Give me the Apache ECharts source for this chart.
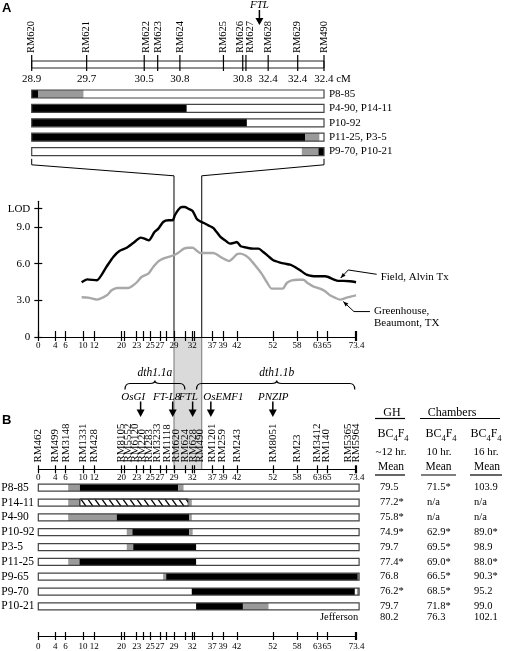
<!DOCTYPE html>
<html><head><meta charset="utf-8">
<script src="https://cdn.jsdelivr.net/npm/echarts@6.0.0/dist/echarts.min.js"></script>
<style>html,body{margin:0;padding:0;background:#fff;}#chart{width:506px;height:651px;}</style>
</head><body><div id="chart"></div>
<script>
// ===== Panel A: fine map of the FTL region (position along the drawn map, 0-100) =====
const markersA = ['RM620','RM621','RM622','RM623','RM624','RM625','RM626','RM627','RM628','RM629','RM490'];
const markerPosA = [0, 18.8, 38.5, 43.1, 50.7, 65.6, 72.2, 73.3, 80.9, 91.0, 100];
const markerLabelPosA = [0, 18.8, 39.1, 43.4, 50.7, 65.6, 71.4, 74.9, 80.9, 91.0, 100];
const cmLabelsA = ['28.9','29.7','30.5','','30.8','','30.8','','32.4','32.4','32.4'];
const ftlPosA = 77.9;
const rowsA = ['P8-85','P4-90, P14-11','P10-92','P11-25, P3-5','P9-70, P10-21'];
const segmentsA = [
  [0, 0, 2.3, 'black'], [0, 2.3, 17.7, 'gray'],
  [1, 0, 53.0, 'black'],
  [2, 0, 73.6, 'black'],
  [3, 0, 93.5, 'black'], [3, 93.5, 98.4, 'gray'],
  [4, 92.4, 98.1, 'gray'], [4, 98.1, 100, 'black']
];
const barEndA = 100;

// ===== LOD profile (x: position along chromosome 1 map as drawn, 0-73.4) =====
const fieldPos = [10.0,11.3,13.5,15.8,17.3,18.7,20.4,21.9,23.6,24.5,25.5,26.8,27.7,28.8,30.0,31.0,31.5,32.3,33.1,33.8,34.6,35.6,36.5,37.3,38.2,39.2,40.4,41.9,43.1,44.2,45.0,45.8,46.7,48.1,49.6,50.8,51.9,53.1,54.2,55.8,56.9,58.1,59.2,60.4,61.9,63.1,64.2,66.1,66.9,68.1,69.2,70.4,71.9,73.3];
const fieldLod = [4.48,4.72,4.64,5.79,6.55,7.04,7.31,7.69,8.13,8.05,7.91,8.59,8.87,9.41,9.55,9.55,9.96,10.42,10.64,10.64,10.50,10.31,9.69,9.47,9.33,9.14,8.92,8.24,7.91,7.64,7.69,7.78,7.42,7.31,7.23,7.23,6.96,6.60,6.28,6.09,6.00,5.92,5.73,5.46,5.10,4.99,4.97,4.97,4.91,4.72,4.59,4.59,4.56,4.48];
const ghPos = [10.0,11.5,13.5,15.8,16.9,18.2,19.2,20.8,21.9,22.8,23.8,25.4,26.5,27.7,28.8,30.0,31.2,32.3,33.6,34.6,35.6,36.4,37.3,38.8,40.4,41.1,42.3,44.1,44.8,45.8,46.5,47.7,48.7,50.0,51.5,52.7,53.8,55.0,56.4,57.3,58.5,60.0,61.1,62.3,63.4,65.0,66.1,67.3,68.4,69.6,71.1,72.3,73.3];
const ghLod = [3.25,3.22,3.06,3.41,3.82,4.01,4.01,4.01,4.23,4.50,4.91,5.19,5.73,6.19,6.41,6.55,6.69,6.90,7.23,7.31,7.31,7.10,6.88,6.88,6.88,6.77,6.50,6.22,6.41,6.77,6.82,6.69,6.41,5.87,5.19,4.50,3.96,3.96,3.96,4.42,4.64,4.69,4.69,4.37,4.15,3.96,3.76,3.41,3.22,3.06,3.22,3.33,3.41];
const lodTickValues = [0, 3, 6, 9, 10.5];
const lodTickLabels = ['0', '3.0', '6.0', '9.0', 'LOD'];
const lodAxisMax = 11.1;
const fieldNote = [69.75, 4.83];
const ghNote = [70.35, 2.9];
const fieldName = 'Field, Alvin Tx';
const ghName = 'Greenhouse,\nBeaumont, TX';

// ===== QTL intervals and candidate genes =====
const qtlBand = [31.3, 37.7];
const qtlNames = ['dth1.1a', 'dth1.1b'];
const qtlStart = [20.0, 36.5];
const qtlEnd = [33.8, 73.0];
const qtlPeak = [26.9, 55.0];
const genes = ['OsGI', 'FT-L8', 'FTL', 'OsEMF1', 'PNZIP'];
const geneArrowPos = [23.6, 31.0, 35.6, 39.8, 54.1];
const geneLabelPos = [21.9, 29.6, 34.6, 42.7, 54.2];

// ===== Panel B: chromosome 1 map =====
const markersB = ['RM462','RM499','RM3148','RM1331','RM428','RM8105','RM5552','RM6120','RM220','RM283','RM3233','RM1118','RM620','RM624','RM628','RM490','RM1201','RM259','RM243','RM8051','RM23','RM3412','RM140','RM5365','RM5964'];
const markerLabelPosB = [0,3.9,6.4,10.4,12.9,19.2,20.8,22.3,23.9,25.6,27.3,29.6,31.9,33.8,35.6,37.3,40.1,42.5,45.8,54.1,59.8,64.2,66.5,71.5,73.2];
const markerTickPosB = [0,3.9,6.3,10.3,12.9,19.2,19.8,22.7,24.2,25.8,28.1,29.6,31.3,34.0,35.5,36.0,40.1,42.6,45.8,54.1,59.7,64.4,66.6,73.0,73.4];
const cmTickLabelsB = ['0','4','6','10','12','20','','23','','25','27','','29','','32','','37','39','42','52','58','63','65','','73.4'];
const rowsB = ['P8-85','P14-11','P4-90','P10-92','P3-5','P11-25','P9-65','P9-70','P10-21'];
const segmentsB = [
  [0, 6.9, 9.6, 'gray'], [0, 9.6, 32.3, 'black'], [0, 32.3, 33.5, 'gray'],
  [1, 6.9, 9.6, 'gray'], [1, 9.6, 34.6, 'hatch'], [1, 34.6, 35.4, 'gray'],
  [2, 6.9, 18.1, 'gray'], [2, 18.1, 34.8, 'black'], [2, 34.8, 35.4, 'gray'],
  [3, 20.4, 21.7, 'gray'], [3, 21.7, 34.8, 'black'], [3, 34.8, 35.6, 'gray'],
  [4, 20.4, 21.9, 'gray'], [4, 21.9, 36.4, 'black'],
  [5, 6.9, 9.5, 'gray'], [5, 9.5, 36.4, 'black'],
  [6, 28.8, 29.5, 'gray'], [6, 29.5, 73.7, 'black'], [6, 73.7, 74.0, 'gray'],
  [7, 35.4, 73.0, 'black'], [7, 73.5, 74.0, 'gray'],
  [8, 36.4, 47.2, 'black'], [8, 47.2, 53.1, 'gray']
];
const barEndB = 74.0;

// ===== Days-to-heading table =====
const ghMean = ['79.5','77.2*','75.8*','74.9*','79.7','77.4*','76.8','76.2*','79.7'];
const ch10Mean = ['71.5*','n/a','n/a','62.9*','69.5*','69.0*','66.5*','68.5*','71.8*'];
const ch16Mean = ['103.9','n/a','n/a','89.0*','98.9','88.0*','90.3*','95.2','99.0'];
const checkName = 'Jefferson';
const checkMeans = ['80.2','76.3','102.1'];
const checkRow = 8.75;

// ===================================================================
const FF = '"Liberation Serif", "Times New Roman", serif';
const BLACK = '#000', GRAYSEG = '#9a9a9a', BAND = '#dadada';

function nearestIdx(arr, v) { let b = 0; for (let i = 1; i < arr.length; i++) if (Math.abs(arr[i]-v) < Math.abs(arr[b]-v)) b = i; return b; }
const labeledTickPosB = markerTickPosB.filter((p, i) => cmTickLabelsB[i] !== '');
const labeledPosA = markerPosA.filter((p, i) => cmLabelsA[i] !== '');

function gridOf(l, w, t, h, extra) {
  return Object.assign({left: l, width: w, top: t, height: h, containLabel: false, outerBoundsMode: 'none', show: false}, extra || {});
}
const lodTop = 208.7 - (lodAxisMax - 10.5) * 12.22;
const grids = [
  gridOf(31.7, 292.3, 61, 7, {show: true, borderColor: '#222', borderWidth: 1, backgroundColor: '#fff'}), // 0 map A
  gridOf(31.7, 292.3, 86.8, 72),      // 1 bars A
  gridOf(38.3, 318.2, lodTop, 337 - lodTop),  // 2 LOD
  gridOf(38.3, 318.2, 337, 132),      // 3 band / QTL
  gridOf(38.3, 318.2, 463, 6.3),      // 4 map B
  gridOf(38.3, 318.2, 480.3, 133.5),  // 5 bars B
  gridOf(38.3, 318.2, 630, 6),        // 6 bottom axis
  gridOf(380, 94, 480.3, 133.5)       // 7 table
];

function hiddenAxis(gi, min, max, extra) {
  return Object.assign({type: 'value', gridIndex: gi, min, max, show: false}, extra || {});
}
const lineBlack = {color: BLACK, width: 1.2};
function mapAxisOut(gi, labelMargin) {
  return {type: 'value', gridIndex: gi, min: 0, max: 73.4, position: 'bottom', z: 6,
    axisLine: {show: true, onZero: false, lineStyle: lineBlack},
    axisTick: {show: true, customValues: markerTickPosB, length: 4, lineStyle: lineBlack},
    axisLabel: {show: true, customValues: labeledTickPosB, margin: labelMargin, color: BLACK, fontFamily: FF, fontSize: 9,
      showMinLabel: true, showMaxLabel: true, lineHeight: 9,
      formatter: v => cmTickLabelsB[nearestIdx(markerTickPosB, v)]},
    splitLine: {show: false}};
}
function mapAxisIn(gi, len) {
  return {type: 'value', gridIndex: gi, min: 0, max: 73.4, position: 'bottom', z: 6,
    axisLine: {show: false, onZero: false},
    axisTick: {show: true, inside: true, customValues: markerTickPosB, length: len, lineStyle: lineBlack},
    axisLabel: {show: false}, splitLine: {show: false}};
}

const xAxes = [
  // 0: map A marker names
  {type: 'value', gridIndex: 0, min: 0, max: 100, position: 'top',
    axisLine: {show: false}, axisTick: {show: false}, splitLine: {show: false},
    axisLabel: {customValues: markerLabelPosA, rotate: 90, margin: 8, color: BLACK, fontFamily: FF, fontSize: 10.5,
      showMinLabel: true, showMaxLabel: true, lineHeight: 6,
      formatter: v => markersA[nearestIdx(markerLabelPosA, v)]}},
  // 1: map A cM labels
  {type: 'value', gridIndex: 0, min: 0, max: 100, position: 'bottom',
    axisLine: {show: false}, axisTick: {show: false}, splitLine: {show: false},
    axisLabel: {customValues: labeledPosA, margin: 6, color: BLACK, fontFamily: FF, fontSize: 11,
      showMinLabel: true, showMaxLabel: true,
      formatter: v => { const i = nearestIdx(markerPosA, v); return i === markerPosA.length - 1 ? '{u|' + cmLabelsA[i] + ' cM}' : cmLabelsA[i]; },
      rich: {u: {fontFamily: FF, fontSize: 11, color: BLACK, padding: [0, 0, 0, 17]}}}},
  // 2: bars A
  hiddenAxis(1, 0, 100),
  // 3,4: LOD x
  mapAxisOut(2, 4), mapAxisIn(2, 6),
  // 5: band grid
  hiddenAxis(3, 0, 73.4),
  // 6: map B (marker names drawn by a custom series on this axis)
  hiddenAxis(4, 0, 73.4),
  // 7,8: map B axis
  mapAxisOut(4, 3.5), mapAxisIn(4, 4),
  // 9: bars B
  hiddenAxis(5, 0, 73.4),
  // 10,11: bottom axis
  mapAxisOut(6, 6), mapAxisIn(6, 4),
  // 12: table
  hiddenAxis(7, 0, 2)
];

const yAxes = [
  hiddenAxis(0, 0, 1),                                       // 0
  {type: 'category', gridIndex: 1, data: rowsA, inverse: true, position: 'right',   // 1
    axisLine: {show: false}, axisTick: {show: false}, splitLine: {show: false},
    axisLabel: {interval: 0, margin: 5, color: BLACK, fontFamily: FF, fontSize: 11, align: 'left'}},
  {type: 'value', gridIndex: 2, min: 0, max: lodAxisMax, position: 'left', z: 6,          // 2
    axisLine: {show: true, onZero: false, lineStyle: lineBlack},
    axisTick: {show: true, customValues: lodTickValues, length: 4, lineStyle: lineBlack},
    axisLabel: {customValues: lodTickValues, margin: 8, color: BLACK, fontFamily: FF, fontSize: 11,
      showMinLabel: true, showMaxLabel: true,
      formatter: v => lodTickLabels[nearestIdx(lodTickValues, v)]},
    splitLine: {show: false}},
  {type: 'value', gridIndex: 2, min: 0, max: lodAxisMax, position: 'left', z: 6,          // 3
    axisLine: {show: false, onZero: false},
    axisTick: {show: true, inside: true, customValues: lodTickValues, length: 4, lineStyle: lineBlack},
    axisLabel: {show: false}, splitLine: {show: false}},
  hiddenAxis(3, 0, 1),                                       // 4
  hiddenAxis(4, 0, 1),                                       // 5
  {type: 'category', gridIndex: 5, data: rowsB, inverse: true, position: 'left',    // 6
    axisLine: {show: false}, axisTick: {show: false}, splitLine: {show: false},
    axisLabel: {interval: 0, margin: 37, color: BLACK, fontFamily: FF, fontSize: 11.5, align: 'left'}},
  hiddenAxis(6, 0, 1),                                       // 7
  hiddenAxis(7, -0.5, 8.5, {inverse: true})                  // 8
];

function txt(x, y, text, size, extra) {
  return {type: 'text', x, y, style: Object.assign({text, fontFamily: FF, fontSize: size, fill: BLACK,
    align: 'center', textAlign: 'center', verticalAlign: 'middle', textVerticalAlign: 'middle'}, extra || {})};
}
function tri(tipX, tipY, w, h) { // downward arrowhead
  return {type: 'polygon', shape: {points: [[tipX, tipY], [tipX - w/2, tipY - h], [tipX + w/2, tipY - h]]}, style: {fill: BLACK}};
}

function makeBarRender(segments, endVal, h) {
  return function (params, api) {
    const i = params.dataIndex;
    const a = api.coord([0, i]), b = api.coord([endVal, i]);
    const y = a[1] - h / 2;
    const ch = [{type: 'rect', shape: {x: a[0], y, width: b[0] - a[0], height: h}, style: {fill: '#fff'}}];
    segments.forEach(s => {
      if (s[0] !== i) return;
      const x0 = api.coord([s[1], i])[0], x1 = api.coord([s[2], i])[0];
      if (s[3] === 'hatch') {
        ch.push({type: 'rect', shape: {x: x0, y, width: x1 - x0, height: h}, style: {fill: '#fff', stroke: BLACK, lineWidth: 1}});
        for (let x = x0 + 1; x < x1 - 2; x += 7) {
          const xe = Math.min(x + 5, x1);
          ch.push({type: 'line', shape: {x1: x, y1: y, x2: xe, y2: y + h * (xe - x) / 5}, style: {stroke: BLACK, lineWidth: 1.3}});
        }
      } else {
        ch.push({type: 'rect', shape: {x: x0, y, width: x1 - x0, height: h}, style: {fill: s[3] === 'black' ? BLACK : GRAYSEG}});
      }
    });
    ch.push({type: 'rect', shape: {x: a[0], y, width: b[0] - a[0], height: h}, style: {fill: 'none', stroke: '#444', lineWidth: 1.2}});
    return {type: 'group', children: ch};
  };
}

const tableCells = [];
[ghMean, ch10Mean, ch16Mean].forEach((col, c) => col.forEach((v, r) => tableCells.push({col: c, row: r, text: v})));
checkMeans.forEach((v, c) => tableCells.push({col: c, row: checkRow, text: v}));

const series = [
  // band (under everything)
  {type: 'custom', xAxisIndex: 5, yAxisIndex: 4, z: 1, silent: true, clip: false, data: [[qtlBand[0], 0]],
    renderItem: (p, api) => {
      const a = api.coord([qtlBand[0], 1]), b = api.coord([qtlBand[1], 0]);
      return {type: 'group', children: [
        {type: 'rect', shape: {x: a[0], y: a[1], width: b[0] - a[0], height: b[1] - a[1]}, style: {fill: BAND}},
        {type: 'line', shape: {x1: a[0], y1: a[1], x2: a[0], y2: b[1]}, style: {stroke: '#777', lineWidth: 1}},
        {type: 'line', shape: {x1: b[0], y1: a[1], x2: b[0], y2: b[1]}, style: {stroke: '#777', lineWidth: 1}}
      ]};
    }},
  // map A ticks
  {type: 'custom', xAxisIndex: 0, yAxisIndex: 0, z: 3, silent: true, clip: false,
    data: markerPosA.map(p => [p, 0]),
    renderItem: (p, api) => {
      const t = api.coord([api.value(0), 1]), b = api.coord([api.value(0), 0]);
      return {type: 'line', shape: {x1: t[0], y1: t[1] - 6, x2: b[0], y2: b[1] + 3}, style: {stroke: BLACK, lineWidth: 1.2}};
    }},
  // FTL arrow on map A
  {type: 'custom', xAxisIndex: 0, yAxisIndex: 0, z: 3, silent: true, clip: false, data: [[ftlPosA, 1]],
    renderItem: (p, api) => {
      const t = api.coord([ftlPosA, 1]);
      return {type: 'group', children: [
        txt(t[0], t[1] - 55.5, 'FTL', 11, {fontStyle: 'italic'}),
        {type: 'line', shape: {x1: t[0], y1: t[1] - 51, x2: t[0], y2: t[1] - 42}, style: {stroke: BLACK, lineWidth: 1.5}},
        tri(t[0], t[1] - 36, 8, 7)
      ]};
    }},
  // bars A
  {type: 'custom', xAxisIndex: 2, yAxisIndex: 1, z: 3, silent: true, clip: false,
    data: rowsA.map((r, i) => [0, i]), encode: {x: 0, y: 1},
    renderItem: makeBarRender(segmentsA, barEndA, 8)},
  // LOD curves
  {type: 'line', name: fieldName, xAxisIndex: 3, yAxisIndex: 2, z: 4, showSymbol: false, symbol: 'none', smooth: 0.2,
    data: fieldPos.map((x, i) => [x, fieldLod[i]]), lineStyle: {color: BLACK, width: 2.4}, silent: true},
  {type: 'line', name: ghName, xAxisIndex: 3, yAxisIndex: 2, z: 3, showSymbol: false, symbol: 'none', smooth: 0.2,
    data: ghPos.map((x, i) => [x, ghLod[i]]), lineStyle: {color: '#a8a8a8', width: 2.4}, silent: true},
  // QTL braces
  {type: 'custom', xAxisIndex: 5, yAxisIndex: 4, z: 3, silent: true, clip: false,
    data: qtlNames.map((n, i) => [qtlStart[i], 1]),
    renderItem: (p, api) => {
      const i = p.dataIndex;
      const top = api.coord([0, 1])[1];
      const x0 = api.coord([qtlStart[i], 1])[0], x1 = api.coord([qtlEnd[i], 1])[0], m = api.coord([qtlPeak[i], 1])[0];
      const yl = top + 46.5, yc = top + 43.5, ye = top + 52.5, r = 5;
      const d = `M${x0},${ye} Q${x0},${yl} ${x0 + r},${yl} L${m - r},${yl} Q${m},${yl} ${m},${yc} Q${m},${yl} ${m + r},${yl} L${x1 - r},${yl} Q${x1},${yl} ${x1},${ye}`;
      return {type: 'group', children: [
        {type: 'path', shape: {pathData: d}, style: {fill: 'none', stroke: BLACK, lineWidth: 1.2}},
        txt(m, top + 36.3, qtlNames[i], 11.5, {fontStyle: 'italic'})
      ]};
    }},
  // candidate genes
  {type: 'custom', xAxisIndex: 5, yAxisIndex: 4, z: 3, silent: true, clip: false,
    data: genes.map((g, i) => [geneArrowPos[i], 1]),
    renderItem: (p, api) => {
      const i = p.dataIndex;
      const top = api.coord([0, 1])[1];
      const ax = api.coord([geneArrowPos[i], 1])[0], lx = api.coord([geneLabelPos[i], 1])[0];
      return {type: 'group', children: [
        txt(lx, top + 60.3, genes[i], 11, {fontStyle: 'italic'}),
        {type: 'line', shape: {x1: ax, y1: top + 64.5, x2: ax, y2: top + 74}, style: {stroke: BLACK, lineWidth: 1.5}},
        tri(ax, top + 80, 8, 7.5)
      ]};
    }},
  // map B marker names (rotated, reading upward)
  {type: 'custom', xAxisIndex: 6, yAxisIndex: 5, z: 5, silent: true, clip: false,
    data: markerLabelPosB.map(p => [p, 1]),
    renderItem: (p, api) => {
      const pt = api.coord([api.value(0), 1]);
      return {type: 'text', x: pt[0], y: pt[1] - 0.5, rotation: Math.PI / 2,
        style: {text: markersB[p.dataIndex], fontFamily: FF, fontSize: 11, fill: BLACK,
          align: 'left', textAlign: 'left', verticalAlign: 'middle', textVerticalAlign: 'middle'}};
    }},
  // bars B
  {type: 'custom', xAxisIndex: 9, yAxisIndex: 6, z: 3, silent: true, clip: false,
    data: rowsB.map((r, i) => [0, i]), encode: {x: 0, y: 1},
    renderItem: makeBarRender(segmentsB, barEndB, 7)},
  // table values
  {type: 'custom', xAxisIndex: 12, yAxisIndex: 8, z: 3, silent: true, clip: false,
    data: tableCells.map(c => [c.col, c.row]), encode: {x: 0, y: 1},
    renderItem: (p, api) => {
      const c = tableCells[p.dataIndex];
      const pt = api.coord([c.col, c.row]);
      const els = [txt(pt[0], pt[1], c.text, 10.5, {align: 'left', textAlign: 'left'})];
      if (c.row === checkRow && c.col === 0) els.push(txt(pt[0] - 21.7, pt[1], checkName, 10.5, {align: 'right', textAlign: 'right'}));
      return {type: 'group', children: els};
    }}
];

const chart = echarts.init(document.getElementById('chart'), null, {renderer: 'canvas'});
chart.setOption({animation: false, backgroundColor: '#fff', grid: grids, xAxis: xAxes, yAxis: yAxes, series});

// ----- overlay elements positioned through the chart's own scales -----
const px = (xi, v) => chart.convertToPixel({xAxisIndex: xi}, v);
const xA0 = px(2, 0), xA1 = px(2, barEndA);
const xb0 = px(5, qtlBand[0]), xb1 = px(5, qtlBand[1]);
const yBarsABottom = grids[1].top + grids[1].height;
const yLodBottom = grids[2].top + grids[2].height;
const g = [];
g.push({type: 'text', x: 2, y: 2, style: {text: 'A', fontFamily: '"Liberation Sans", Arial, sans-serif', fontWeight: 'bold', fontSize: 13, fill: BLACK}});
g.push({type: 'text', x: 2, y: 414, style: {text: 'B', fontFamily: '"Liberation Sans", Arial, sans-serif', fontWeight: 'bold', fontSize: 13, fill: BLACK}});
[[xA0, xb0], [xA1, xb1]].forEach(([xt, xb]) => {
  g.push({type: 'polyline', shape: {points: [[xt, yBarsABottom], [xt, yBarsABottom + 6], [xb, yBarsABottom + 17], [xb, yLodBottom]]},
    style: {stroke: BLACK, fill: null, lineWidth: 1}});
});
function headFrom(tip, from, len, wid) {
  const dx = tip[0] - from[0], dy = tip[1] - from[1], L = Math.hypot(dx, dy), ux = dx / L, uy = dy / L;
  const bx = tip[0] - ux * len, by = tip[1] - uy * len;
  return {type: 'polygon', shape: {points: [[tip[0], tip[1]], [bx - uy * wid / 2, by + ux * wid / 2], [bx + uy * wid / 2, by - ux * wid / 2]]}, style: {fill: BLACK}};
}
const tf = chart.convertToPixel({xAxisIndex: 3, yAxisIndex: 2}, fieldNote);
const kf = [tf[0] + 7.6, tf[1] - 8];
g.push({type: 'polyline', shape: {points: [tf, kf, [tf[0] + 36, tf[1] - 3.7]]}, style: {stroke: BLACK, fill: null, lineWidth: 1}});
g.push(headFrom(tf, kf, 5, 4));
g.push(txt(tf[0] + 40, tf[1] - 0.7, fieldName, 11, {align: 'left', textAlign: 'left'}));
const tg = chart.convertToPixel({xAxisIndex: 3, yAxisIndex: 2}, ghNote);
const kg = [tg[0] + 10.7, tg[1] + 10];
g.push({type: 'polyline', shape: {points: [tg, kg, [tg[0] + 26.7, tg[1] + 10]]}, style: {stroke: BLACK, fill: null, lineWidth: 1}});
g.push(headFrom(tg, kg, 5, 4));
g.push(txt(tg[0] + 30.7, tg[1] + 15.8, ghName, 11, {align: 'left', textAlign: 'left', lineHeight: 11.6}));
// table header
g.push(txt(392, 413.3, 'GH', 12));
g.push(txt(452, 413.3, 'Chambers', 12));
[[375, 405], [420, 500]].forEach(([a, b]) => g.push({type: 'line', shape: {x1: a, y1: 418.5, x2: b, y2: 418.5}, style: {stroke: BLACK, lineWidth: 1.2}}));
[393, 441, 486].forEach(x => g.push({type: 'text', x, y: 434, style: {text: '{m|BC}{s|4}{m|F}{s|4}', fill: BLACK,
  align: 'center', textAlign: 'center', verticalAlign: 'middle', textVerticalAlign: 'middle',
  rich: {m: {fontFamily: FF, fontSize: 12, lineHeight: 18, fill: BLACK}, s: {fontFamily: FF, fontSize: 8.5, lineHeight: 9, verticalAlign: 'bottom', fill: BLACK}}}}));
[['~12 hr.', 391], ['10 hr.', 439], ['16 hr.', 486]].forEach(([t, x]) => g.push(txt(x, 451.7, t, 11)));
[391, 438.5, 487].forEach(x => g.push(txt(x, 467.3, 'Mean', 11.5)));
[[375, 405], [421, 456], [470, 502]].forEach(([a, b]) => g.push({type: 'line', shape: {x1: a, y1: 475, x2: b, y2: 475}, style: {stroke: BLACK, lineWidth: 1.2}}));
chart.setOption({graphic: g});
</script>
</body></html>
